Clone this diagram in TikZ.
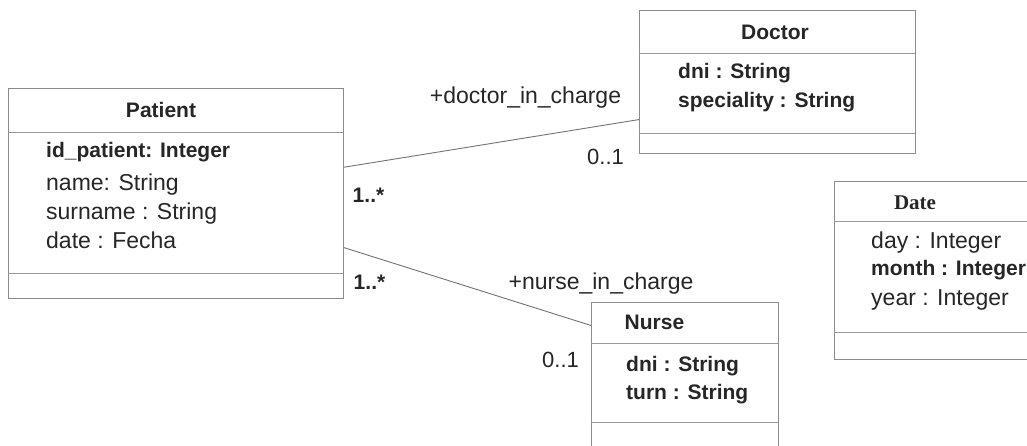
\documentclass[tikz,border=0pt]{standalone}
\usepackage{fontspec}
\setmainfont{Liberation Sans}
\newfontfamily\serifbold{Liberation Serif}
\usetikzlibrary{calc}

\begin{document}
\begin{tikzpicture}[x=1pt, y=-1pt, every node/.style={inner sep=0pt, text=black!85}, classbox/.style={draw=black!45, line width=0.8pt, anchor=north west}, divider/.style={draw=black!40, line width=0.8pt}, assoc/.style={draw=black!55, line width=0.9pt}, cname/.style={font=\bfseries\fontsize{21}{25}\selectfont, text height=15pt, text depth=0pt}, battr/.style={anchor=west, font=\bfseries\fontsize{21}{25}\selectfont, text height=15pt, text depth=0pt}, attr/.style={anchor=west, font=\fontsize{23}{27}\selectfont, text height=16.5pt, text depth=0pt}, role/.style={font=\fontsize{23}{27}\selectfont, text height=16.5pt, text depth=0pt}, mult/.style={font=\fontsize{22}{26}\selectfont, text height=15.8pt, text depth=0pt}]
  \useasboundingbox (0,0) rectangle (1027,446);
  \clip (0,0) rectangle (1027,446);

  \node[classbox, minimum width=335pt, minimum height=210pt] (patient) at (8,88) {};
  \draw[divider] (8,132) -- (343,132);
  \draw[divider] (8,273) -- (343,273);
  \node[cname] (patientname) at (161,110.5) {Patient};
  \node[battr] (idpatient) at (46,150) {id\_patient: Integer};
  \node[attr] (pname) at (46,182) {name: String};
  \node[attr] (psurname) at (46,211) {surname : String};
  \node[attr] (pdate) at (46,240) {date : Fecha};

  \node[classbox, minimum width=276pt, minimum height=143pt] (doctor) at (639,10) {};
  \draw[divider] (639,53) -- (915,53);
  \draw[divider] (639,133) -- (915,133);
  \node[cname] (doctorname) at (775,32) {Doctor};
  \node[battr] (ddni) at (678,71) {dni : String};
  \node[battr] (dspeciality) at (678,100) {speciality : String};

  \node[classbox, minimum width=200pt, minimum height=178pt] (date) at (834,181) {};
  \draw[divider] (834,221) -- (1034,221);
  \draw[divider] (834,332) -- (1034,332);
  \node[cname, font=\serifbold\bfseries\fontsize{21}{25}\selectfont, text height=13.5pt] (datename) at (915,202.5) {Date};
  \node[attr] (dday) at (871,240) {day : Integer};
  \node[battr] (dmonth) at (871,268) {month : Integer};
  \node[attr] (dyear) at (871,297) {year : Integer};

  \node[classbox, minimum width=187pt, minimum height=160pt] (nurse) at (591,302) {};
  \draw[divider] (591,343) -- (778,343);
  \draw[divider] (591,422) -- (778,422);
  \node[cname] (nursename) at (654.5,322) {Nurse};
  \node[battr] (ndni) at (626,363.5) {dni : String};
  \node[battr] (nturn) at (626,392) {turn : String};

  \draw[assoc] ($(patient.north east)!0.376!(patient.south east)$) -- ($(doctor.north west)!0.762!(doctor.south west)$);
  \draw[assoc] ($(patient.north east)!0.757!(patient.south east)$) -- ($(nurse.north west)!0.146!(nurse.south west)$);

  \node[role] (doctorrole) at (525.5,95) {+doctor\_in\_charge};
  \node[mult] (doctormult) at (605.5,157) {0..1};
  \node[mult, font=\bfseries\fontsize{21}{25}\selectfont] (patientmulta) at (368.5,195) {1..*};
  \node[mult, font=\bfseries\fontsize{21}{25}\selectfont] (patientmultb) at (369.5,282) {1..*};
  \node[role] (nurserole) at (601,281) {+nurse\_in\_charge};
  \node[mult] (nursemult) at (560.5,360) {0..1};
\end{tikzpicture}
\end{document}
